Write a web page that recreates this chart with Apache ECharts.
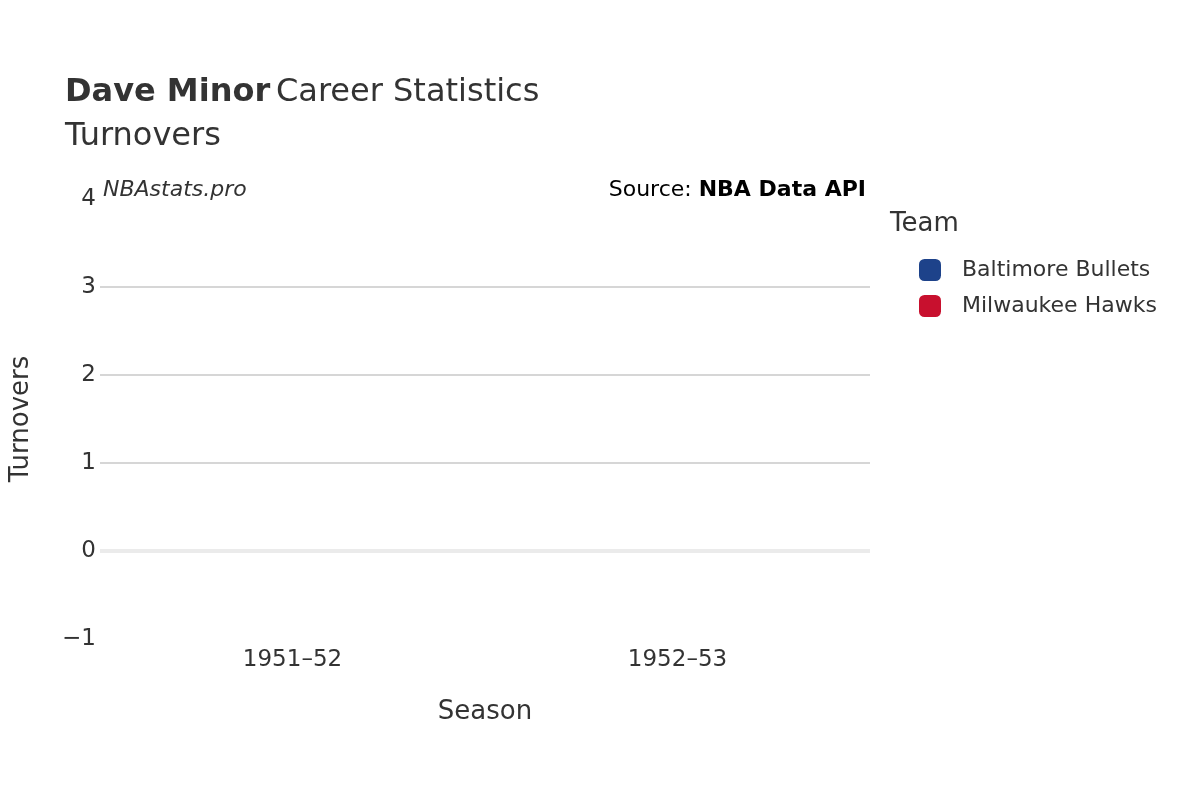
<!DOCTYPE html>
<html><head><meta charset="utf-8">
<script src="https://cdn.jsdelivr.net/npm/echarts@6/dist/echarts.min.js"></script>
<style>html,body{margin:0;padding:0;background:#fff}#c{width:1200px;height:800px}</style>
</head><body><div id="c"></div>
<script>
const seasons = ['1951–52', '1952–53'];
const teams = ['Baltimore Bullets', 'Milwaukee Hawks'];
const teamColors = ['#1d428a', '#c8102e'];
const baltimoreTurnovers = [null, null];
const milwaukeeTurnovers = [null, null];
const yTicks = [-1, 0, 1, 2, 3, 4];

const font = 'DejaVu Sans';
const chart = echarts.init(document.getElementById('c'));
chart.setOption({
  animation: false,
  textStyle: { fontFamily: font, color: '#333' },
  title: {
    left: 60, top: 66,
    text: '{b|Dave Minor} {n|Career Statistics}\n{n|Turnovers}',
    textStyle: { fontWeight: 'normal', rich: {
      b: { fontFamily: font, fontWeight: 'bold', fontSize: 32, color: '#333', lineHeight: 44 },
      n: { fontFamily: font, fontWeight: 'normal', fontSize: 32, color: '#333', lineHeight: 44 }
    } }
  },
  graphic: [
    { type: 'text', left: 103, top: 179, style: { text: 'NBAstats.pro', font: 'italic 22px "DejaVu Sans"', fill: '#333' } },
    { type: 'text', right: 334, top: 179, style: { text: '{a|Source: }{b|NBA Data API}', rich: {
      a: { fontFamily: font, fontSize: 22, color: '#333' },
      b: { fontFamily: font, fontSize: 22, fontWeight: 'bold', color: '#333' } } } },
    { type: 'text', left: 890, top: 211, style: { text: 'Team', font: '26px "DejaVu Sans"', fill: '#333' } }
  ],
  legend: {
    orient: 'vertical', left: 914, top: 254, itemGap: 14,
    itemWidth: 22, itemHeight: 22, icon: 'roundRect',
    textStyle: { fontFamily: font, fontSize: 22, color: '#333', padding: [0, 0, 0, 16] },
    data: teams
  },
  grid: { left: 98, right: 330, top: 199, bottom: 161 },
  xAxis: {
    type: 'category', data: seasons,
    name: 'Season', nameLocation: 'middle', nameGap: 60,
    nameTextStyle: { fontSize: 26, color: '#333', fontFamily: font },
    axisLine: { show: false }, axisTick: { show: false },
    axisLabel: { fontSize: 23, color: '#333', margin: 10, fontFamily: font }
  },
  yAxis: {
    type: 'value', min: yTicks[0], max: yTicks[yTicks.length - 1], interval: 1,
    name: 'Turnovers', nameLocation: 'middle', nameGap: 66,
    nameTextStyle: { fontSize: 26, color: '#333', fontFamily: font },
    axisLabel: { fontSize: 23, color: '#333', fontFamily: font, margin: 4,
      formatter: v => (v < 0 ? '−' + Math.abs(v) : String(v)) },
    splitLine: { lineStyle: { color: ['transparent', 'transparent', '#c8c8c8', '#c8c8c8', '#c8c8c8', 'transparent'], width: 1.5 } }
  },
  series: [
    { name: teams[0], type: 'bar', data: baltimoreTurnovers, itemStyle: { color: teamColors[0] },
      markLine: { silent: true, symbol: 'none', label: { show: false },
        lineStyle: { color: '#ebebeb', width: 4, type: 'solid' }, data: [{ yAxis: 0 }] } },
    { name: teams[1], type: 'bar', data: milwaukeeTurnovers, itemStyle: { color: teamColors[1] } }
  ]
});
</script></body></html>
